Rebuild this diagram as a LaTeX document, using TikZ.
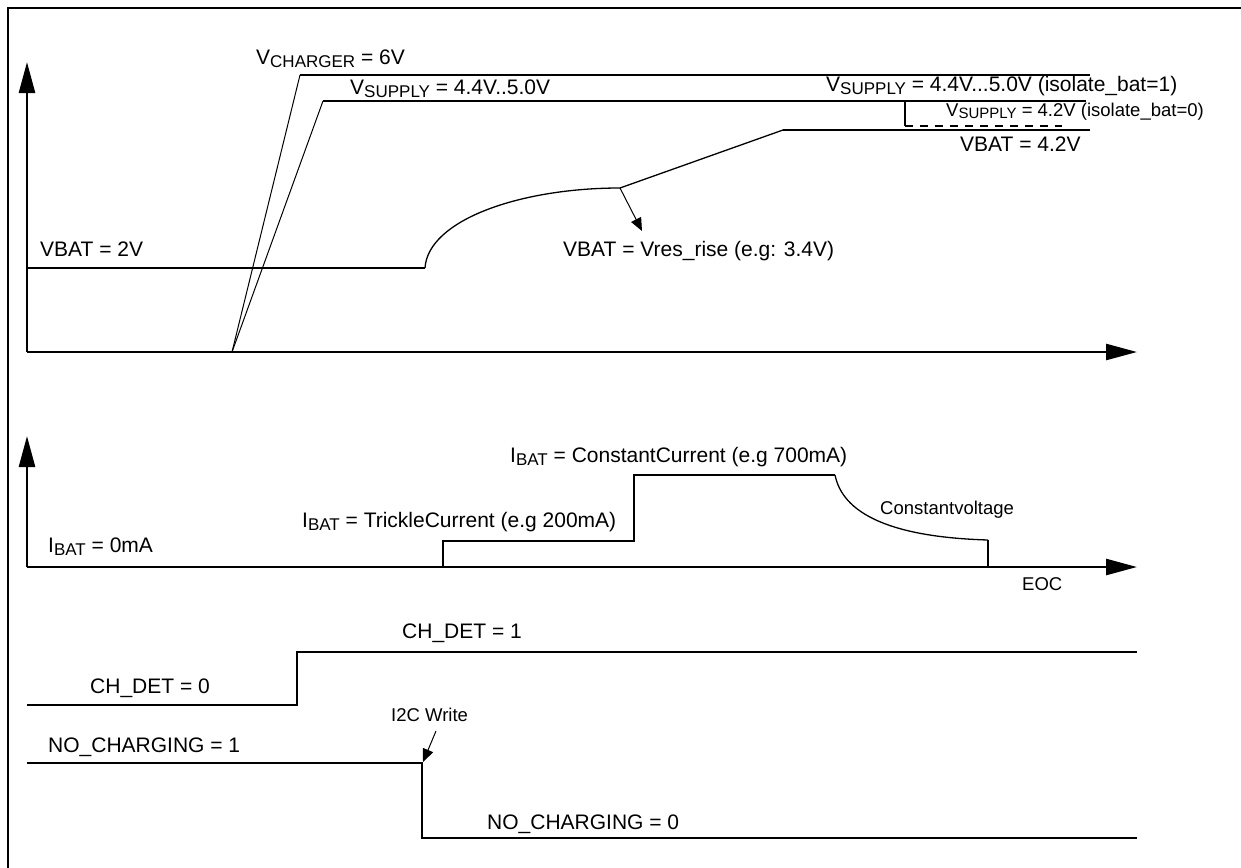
\documentclass[tikz,border=0pt]{standalone}
\usepackage{fontspec}
\setmainfont{Liberation Sans}
\usetikzlibrary{arrows.meta}
\newcommand{\lowsub}[1]{\raisebox{-0.3ex}{\fontsize{17}{17}\selectfont #1}}
\newcommand{\lowsubs}[1]{\raisebox{-0.3ex}{\fontsize{15}{15}\selectfont #1}}
\tikzset{
  x=1pt, y=-1pt,
  axisline/.style={line width=2.6pt, -{Triangle[length=31pt,width=16pt]}},
  sig/.style={line width=2.4pt},
  thin line/.style={line width=1pt},
  lbl/.style={anchor=base west, inner sep=0pt, font=\fontsize{21}{23}\selectfont},
  slbl/.style={anchor=base west, inner sep=0pt, font=\fontsize{18.5}{20}\selectfont},
  smallarrow/.style={line width=1pt, -{Triangle[length=13pt,width=11pt]}},
}
\begin{document}
\begin{tikzpicture}
\useasboundingbox (0,0) rectangle (1241,867);
% frame
\draw[line width=2.6pt] (8,870) -- (8,8) -- (1245,8);

% ---------- voltage panel ----------
\coordinate (vo) at (27,352);
\coordinate (vy) at (27,62);
\coordinate (vx) at (1137,352);
\draw[axisline] (vo) -- (vy);
\draw[axisline] (vo) -- (vx);

% VCHARGER and VSUPPLY ramps
\coordinate (r0) at (232,352);
\coordinate (c1) at (300,75);
\coordinate (c2) at (1090,75);
\coordinate (s1) at (323,101);
\coordinate (s2) at (1086,101);
\draw[thin line] (r0) -- (c1);
\draw[line width=1.6pt] (c1) -- (c2);
\draw[thin line] (r0) -- (s1);
\draw[sig] (s1) -- (s2);
% isolate_bat=0 branch
\coordinate (d1) at (905,101);
\coordinate (d2) at (905,126);
\coordinate (d3) at (1062,126);
\draw[line width=1.6pt] (d1) -- (d2);
\draw[line width=1.6pt, dash pattern=on 8pt off 7pt] (d2) -- (d3);

% VBAT trace
\coordinate (b0) at (27,268);
\coordinate (b1) at (425,268);
\coordinate (b2) at (620,188);
\coordinate (b3) at (783,130);
\coordinate (b4) at (1090,130);
\draw[sig] (b0) -- (b1);
\draw[line width=1.3pt] (b1) .. controls (428,220) and (520,188) .. (b2);
\draw[line width=1.3pt] (b2) -- (b3);
\draw[sig] (b3) -- (b4);
\coordinate (a2) at (642,231);
\draw[smallarrow] (b2) -- (a2);

% voltage labels
\node[lbl] (lvch) at (256,64) {V\lowsub{CHARGER} = 6V};
\node[lbl] (lvs1) at (350,94) {V\lowsub{SUPPLY} = 4.4V..5.0V};
\node[lbl] (lvs2) at (826,91) {V\lowsub{SUPPLY} = 4.4V...5.0V (isolate\_bat=1)};
\node[slbl] (lvs3) at (946,116) {V\lowsubs{SUPPLY} = 4.2V (isolate\_bat=0)};
\node[lbl] (lvb42) at (960,151) {VBAT = 4.2V};
\node[lbl] (lvb2) at (40,256) {VBAT = 2V};
\node[lbl] (lvres) at (563,256) {VBAT = Vres\_rise (e.g: 3.4V)};

% ---------- current panel ----------
\coordinate (io) at (27,567);
\coordinate (iy) at (27,436);
\coordinate (ix) at (1137,567);
\draw[axisline] (io) -- (iy);
\draw[axisline] (io) -- (ix);
\coordinate (i1) at (443,567);
\coordinate (i2) at (443,541);
\coordinate (i3) at (634,541);
\coordinate (i4) at (634,475);
\coordinate (i5) at (835,475);
\coordinate (i6) at (988,540);
\coordinate (i7) at (988,567);
\draw[sig] (i1) -- (i2) -- (i3) -- (i4) -- (i5);
\draw[line width=1.3pt] (i5) .. controls (845,525) and (920,538) .. (i6);
\draw[line width=1.6pt] (i6) -- (i7);

\node[lbl] (li0) at (48,552) {I\lowsub{BAT} = 0mA};
\node[lbl] (lit) at (302,527) {I\lowsub{BAT} = TrickleCurrent (e.g 200mA)};
\node[lbl] (lic) at (510,462) {I\lowsub{BAT} = ConstantCurrent (e.g 700mA)};
\node[slbl] (lcv) at (880,514) {Constantvoltage};
\node[slbl] (leoc) at (1022,590) {EOC};

% ---------- CH_DET ----------
\coordinate (h0) at (27,705);
\coordinate (h1) at (297,705);
\coordinate (h2) at (297,652);
\coordinate (h3) at (1137,652);
\draw[sig] (h0) -- (h1) -- (h2) -- (h3);
\node[lbl] (lch0) at (90,693) {CH\_DET = 0};
\node[lbl] (lch1) at (402,638) {CH\_DET = 1};

% ---------- NO_CHARGING ----------
\coordinate (n0) at (27,763);
\coordinate (n1) at (422,763);
\coordinate (n2) at (422,838);
\coordinate (n3) at (1137,838);
\draw[sig] (n0) -- (n1) -- (n2) -- (n3);
\node[lbl] (lnc1) at (48,752) {NO\_CHARGING = 1};
\node[lbl] (lnc0) at (487,829) {NO\_CHARGING = 0};
\node[slbl] (li2c) at (391,721) {I2C Write};
\coordinate (w0) at (436,731);
\coordinate (w1) at (423,762);
\draw[smallarrow] (w0) -- (w1);
\end{tikzpicture}
\end{document}
